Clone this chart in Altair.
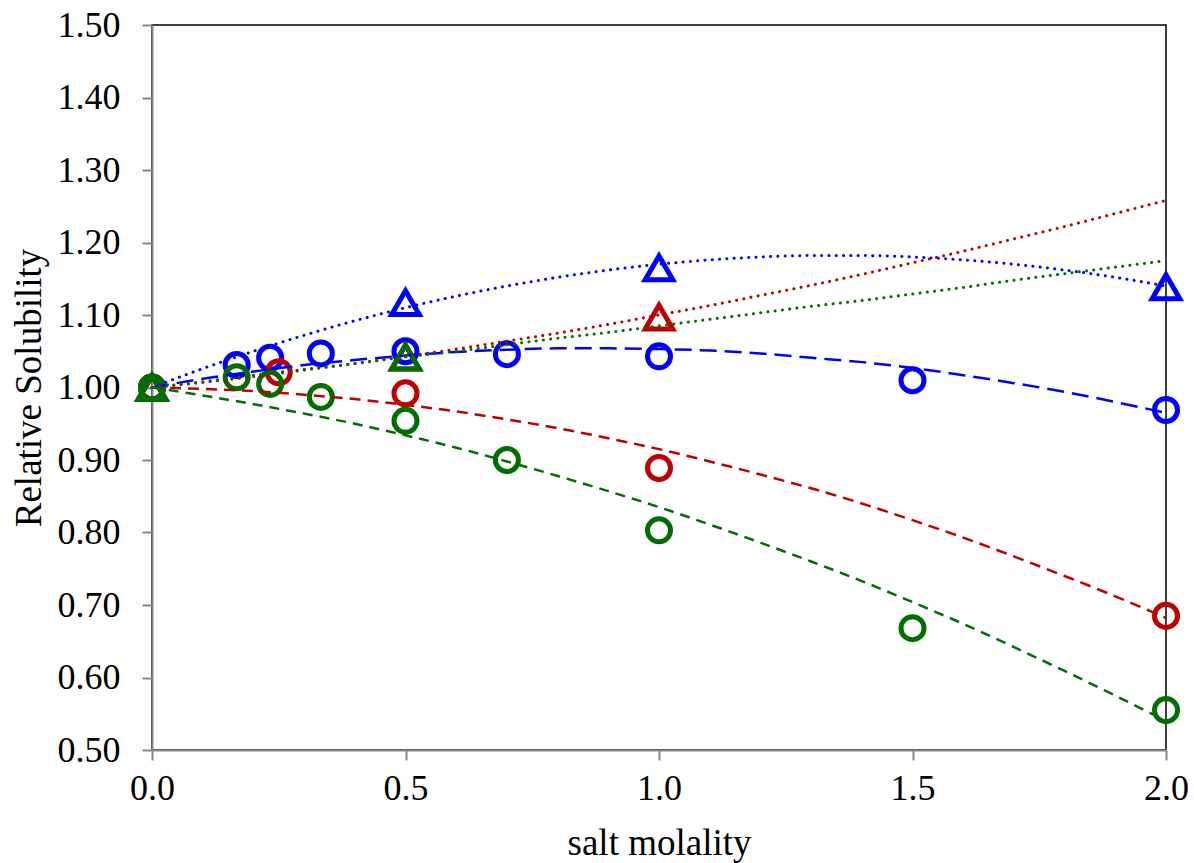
import altair as alt
import pandas as pd

# ---- measured points ----
blue_circ_x = [0.0, 0.167, 0.233, 0.333, 0.5, 0.7, 1.0, 1.5, 2.0]
blue_circ_y = [1.000, 1.031, 1.041, 1.047, 1.050, 1.046, 1.043, 1.010, 0.969]
blue_tri_x = [0.0, 0.5, 1.0, 2.0]
blue_tri_y = [1.000, 1.117, 1.165, 1.139]

red_circ_x = [0.0, 0.25, 0.5, 1.0, 2.0]
red_circ_y = [1.000, 1.021, 0.992, 0.889, 0.685]
red_tri_x = [0.0, 0.5, 1.0]
red_tri_y = [1.000, 1.042, 1.097]

green_circ_x = [0.0, 0.167, 0.233, 0.333, 0.5, 0.7, 1.0, 1.5, 2.0]
green_circ_y = [1.000, 1.014, 1.005, 0.987, 0.954, 0.900, 0.803, 0.668, 0.555]
green_tri_x = [0.0, 0.5]
green_tri_y = [1.000, 1.042]

# ---- trend curves ----
curve_x = [0.0, 0.1, 0.2, 0.3, 0.4, 0.5, 0.6, 0.7, 0.8, 0.9, 1.0,
           1.1, 1.2, 1.3, 1.4, 1.5, 1.6, 1.7, 1.8, 1.9, 2.0]
blue_dash_y = [1.000, 1.012, 1.022, 1.031, 1.038, 1.044, 1.049, 1.052, 1.054, 1.054, 1.053,
               1.051, 1.047, 1.041, 1.035, 1.027, 1.017, 1.006, 0.994, 0.980, 0.965]
blue_dot_y = [1.000, 1.026, 1.050, 1.072, 1.092, 1.110, 1.126, 1.140, 1.152, 1.162, 1.170,
              1.176, 1.180, 1.182, 1.182, 1.180, 1.176, 1.170, 1.162, 1.152, 1.140]
red_dash_y = [1.000, 0.998, 0.995, 0.990, 0.984, 0.976, 0.967, 0.956, 0.944, 0.930, 0.915,
              0.898, 0.880, 0.861, 0.840, 0.817, 0.793, 0.767, 0.740, 0.712, 0.682]
red_dot_y = [1.000, 1.007, 1.015, 1.024, 1.033, 1.043, 1.053, 1.064, 1.075, 1.087, 1.100,
             1.113, 1.127, 1.141, 1.156, 1.172, 1.188, 1.205, 1.222, 1.240, 1.258]
green_dash_y = [1.000, 0.989, 0.977, 0.964, 0.950, 0.934, 0.917, 0.898, 0.878, 0.857, 0.835,
                0.811, 0.786, 0.760, 0.733, 0.704, 0.674, 0.642, 0.609, 0.575, 0.540]
green_dot_y = [1.000, 1.008, 1.017, 1.025, 1.033, 1.042, 1.050, 1.059, 1.068, 1.076, 1.085,
               1.094, 1.103, 1.112, 1.120, 1.129, 1.138, 1.148, 1.157, 1.166, 1.175]

x_ticks = [0.0, 0.5, 1.0, 1.5, 2.0]
y_ticks = [0.5, 0.6, 0.7, 0.8, 0.9, 1.0, 1.1, 1.2, 1.3, 1.4, 1.5]

BLUE = "#0000FF"
RED = "#C00000"
GREEN = "#006E00"
FONT = "Liberation Serif"

xs = alt.Scale(domain=[0, 2], nice=False, zero=False)
ys = alt.Scale(domain=[0.5, 1.5], nice=False, zero=False)

def X():
    return alt.X("x:Q", scale=xs, title="salt molality",
                 axis=alt.Axis(values=x_ticks, format=".1f", labelFlush=False))

def Y():
    return alt.Y("y:Q", scale=ys, title="Relative Solubility",
                 axis=alt.Axis(values=y_ticks, format=".2f", labelFlush=False))

def points(xv, yv, color, shape, size):
    df = pd.DataFrame({"x": xv, "y": yv})
    return alt.Chart(df).mark_point(shape=shape, filled=False, size=size,
                                    strokeWidth=5, color=color, opacity=1).encode(x=X(), y=Y())

def curve(yv, color, dash, width=2.5):
    df = pd.DataFrame({"x": curve_x, "y": yv})
    return alt.Chart(df).mark_line(color=color, strokeDash=dash, strokeWidth=width,
                                   strokeCap="round" if dash[0] < 1 else "butt",
                                   interpolate="monotone").encode(x=X(), y=Y())

CS, TS = 530, 760
DOT = [0.1, 7.2]

chart = alt.layer(
    points(blue_circ_x, blue_circ_y, BLUE, "circle", CS),
    points(blue_tri_x, blue_tri_y, BLUE, "triangle-up", TS),
    points(red_circ_x, red_circ_y, RED, "circle", CS),
    points(red_tri_x, red_tri_y, RED, "triangle-up", TS),
    points(green_circ_x, green_circ_y, GREEN, "circle", CS),
    points(green_tri_x, green_tri_y, GREEN, "triangle-up", TS),
    curve(blue_dash_y, BLUE, [17, 8]),
    curve(blue_dot_y, BLUE, DOT, 3),
    curve(red_dash_y, RED, [11, 7]),
    curve(red_dot_y, RED, DOT, 3),
    curve(green_dash_y, GREEN, [10, 7]),
    curve(green_dot_y, GREEN, DOT, 3),
).properties(
    width=1014, height=725,
    autosize=alt.AutoSizeParams(type="none"),
    padding={"left": 152, "top": 25, "right": 28, "bottom": 113},
    background="white",
).configure_view(
    stroke="black", strokeWidth=1.5
).configure_axis(
    grid=False,
    domainColor="#888888", domainWidth=2,
    tickColor="#888888", tickWidth=2, tickSize=10,
    labelFont=FONT, labelFontSize=36, labelColor="black",
    titleFont=FONT, titleFontSize=37, titleFontWeight="normal", titleColor="black",
    zindex=1,
).configure_axisX(
    labelPadding=11, titlePadding=19,
).configure_axisY(
    labelPadding=22, titlePadding=9,
)

chart.save("out.html", embed_options={"renderer": "svg", "actions": False})
